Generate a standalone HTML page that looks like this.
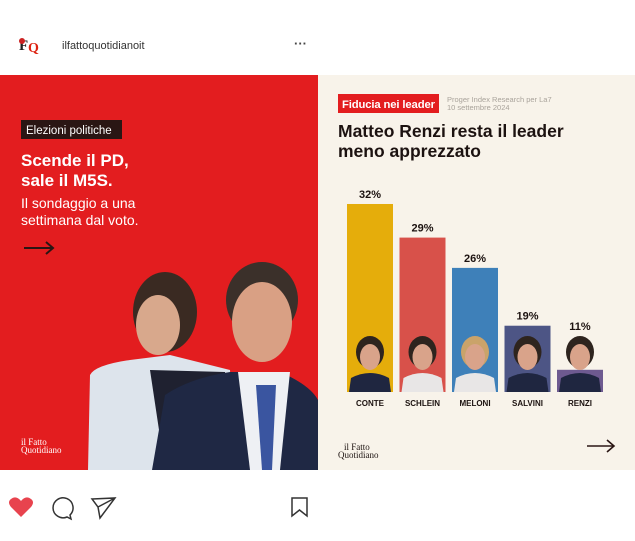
<!DOCTYPE html>
<html><head><meta charset="utf-8"><style>
body{margin:0;width:635px;height:541px;background:#fff;overflow:hidden;font-family:"Liberation Sans",sans-serif}
svg{display:block}
</style></head><body>
<svg width="635" height="541" viewBox="0 0 635 541" xmlns="http://www.w3.org/2000/svg">
<g>
<text x="19" y="50" font-family="Liberation Serif" font-weight="bold" font-size="15" fill="#222">F</text>
<text x="28" y="52" font-family="Liberation Serif" font-weight="bold" font-size="14" fill="#d21">Q</text>
<circle cx="22" cy="41" r="3" fill="#c22"/>
</g>
<text x="62" y="49" font-size="11" fill="#333">ilfattoquotidianoit</text>
<text x="294" y="48" font-size="13" font-weight="bold" fill="#444">···</text>

<rect x="0" y="75" width="318" height="395" fill="#e31d1f"/>
<rect x="21" y="120" width="101" height="19" fill="#2a1614"/>
<text x="26" y="134" font-size="11.5" fill="#fff">Elezioni politiche</text>
<text x="21" y="166" font-size="17" font-weight="bold" fill="#fff">Scende il PD,</text>
<text x="21" y="186" font-size="17" font-weight="bold" fill="#fff">sale il M5S.</text>
<text x="21" y="208" font-size="14" fill="#fff">Il sondaggio a una</text>
<text x="21" y="225" font-size="14" fill="#fff">settimana dal voto.</text>
<g stroke="#2a1614" stroke-width="2" fill="none"><path d="M24 248 H52 M46 242 L53 248 L46 254"/></g>
<g>
<path d="M88 470 L90 375 Q95 365 130 360 L170 355 L230 370 L236 470 Z" fill="#dde4ec"/>
<path d="M150 370 L165 470 L230 470 L225 372 Z" fill="#1f2130"/>
<ellipse cx="165" cy="312" rx="32" ry="40" fill="#3a2a22"/>
<ellipse cx="158" cy="325" rx="22" ry="30" fill="#d8a88c"/>
</g>
<g>
<path d="M152 470 L165 395 Q190 378 230 372 L280 372 Q310 385 318 400 L318 470 Z" fill="#1f2844"/>
<path d="M238 372 L250 470 L280 470 L290 372 Z" fill="#eef0f4"/>
<path d="M256 385 L262 470 L272 470 L276 385 Z" fill="#3a55a0"/>
<ellipse cx="262" cy="300" rx="36" ry="38" fill="#3b302a"/>
<ellipse cx="262" cy="322" rx="30" ry="40" fill="#d9a084"/>
</g>
<text x="21" y="445" font-family="Liberation Serif" font-size="9" fill="#fff">il Fatto</text>
<text x="21" y="453" font-family="Liberation Serif" font-size="9" fill="#fff">Quotidiano</text>

<rect x="318" y="75" width="317" height="395" fill="#f8f3ea"/>
<rect x="338" y="94" width="101" height="19" fill="#e31d1f"/>
<text x="342" y="108" font-size="11.3" font-weight="bold" fill="#fff" textLength="93">Fiducia nei leader</text>
<text x="447" y="102" font-size="7.5" fill="#a9a39b">Proger Index Research per La7</text>
<text x="447" y="110" font-size="7.5" fill="#a9a39b">10 settembre 2024</text>
<text x="338" y="137" font-size="17.5" font-weight="bold" fill="#1c1210">Matteo Renzi resta il leader</text>
<text x="338" y="157" font-size="17.5" font-weight="bold" fill="#1c1210">meno apprezzato</text>
<g id="bars"></g>
<text x="344" y="450" font-family="Liberation Serif" font-size="9" fill="#1c1210">il Fatto</text>
<text x="338" y="458" font-family="Liberation Serif" font-size="9" fill="#1c1210">Quotidiano</text>
<g stroke="#2a1614" stroke-width="1.6" fill="none"><path d="M587 446 H613 M607 440 L614 446 L607 452"/></g>

<path d="M21 517 L11 507 Q7 502 11 499 Q16 495 21 501 Q26 495 31 499 Q35 502 31 507 Z" fill="#e8434e"/>
<path d="M70 515 L71 519 L67 517 A10 10 0 1 1 70 515 Z" fill="none" stroke="#333" stroke-width="1.5"/>
<path d="M92 499 L115 498 L100 518 L98 507 Z M98 507 L115 498" fill="none" stroke="#333" stroke-width="1.5"/>
<path d="M292 498 H307 V516 L299.5 510 L292 516 Z" fill="none" stroke="#333" stroke-width="1.5"/>
</svg>
<script>
const names = ["CONTE","SCHLEIN","MELONI","SALVINI","RENZI"];
const values = [32, 29, 26, 19, 11];
const labels = ["32%","29%","26%","19%","11%"];
const colors = ["#e5ad0b","#d8514a","#3e80b9","#4d5585","#6e5a90"];
const NS = "http://www.w3.org/2000/svg";
const base = 392, x0 = 347, step = 52.5, bw = 46;
function yScale(v){ return base - 0.1836 * v * v; }
function xScale(i){ return x0 + i * step; }
const g = document.getElementById('bars');
function mk(tag, attrs){ const e = document.createElementNS(NS, tag); for (const k in attrs) e.setAttribute(k, attrs[k]); g.appendChild(e); return e; }
values.forEach((v, i) => {
  const x = xScale(i), y = yScale(v);
  const r = mk('rect', {x: x, y: y, width: bw, height: base - y, fill: colors[i]});
  
  
  const cx = x + bw / 2;
  const body = mk('path', {d: `M${x+2} ${base} L${x+4} ${base-14} Q${cx} ${base-24} ${x+bw-4} ${base-14} L${x+bw-2} ${base} Z`, fill: i===2||i===1 ? '#e8e6e6' : '#1f2640'});
  
  
  const hair = mk('ellipse', {cx: cx, cy: base - 40, rx: 14, ry: 16, fill: i===2 ? '#caa36a' : '#2e241e'});
  
  
  const face = mk('ellipse', {cx: cx, cy: base - 35, rx: 10, ry: 13, fill: '#d9a38a'});
  
  
  const t = mk('text', {x: cx, y: Math.min(y, base - 56) - 6, 'text-anchor': 'middle', 'font-size': 11, 'font-weight': 'bold', fill: '#1c1210'});
  t.textContent = labels[i];
  
  
  const n = mk('text', {x: cx, y: 406, 'text-anchor': 'middle', 'font-size': 8, 'font-weight': 'bold', fill: '#1c1210'});
  n.textContent = names[i];
  
  
});
</script>
</body></html>
